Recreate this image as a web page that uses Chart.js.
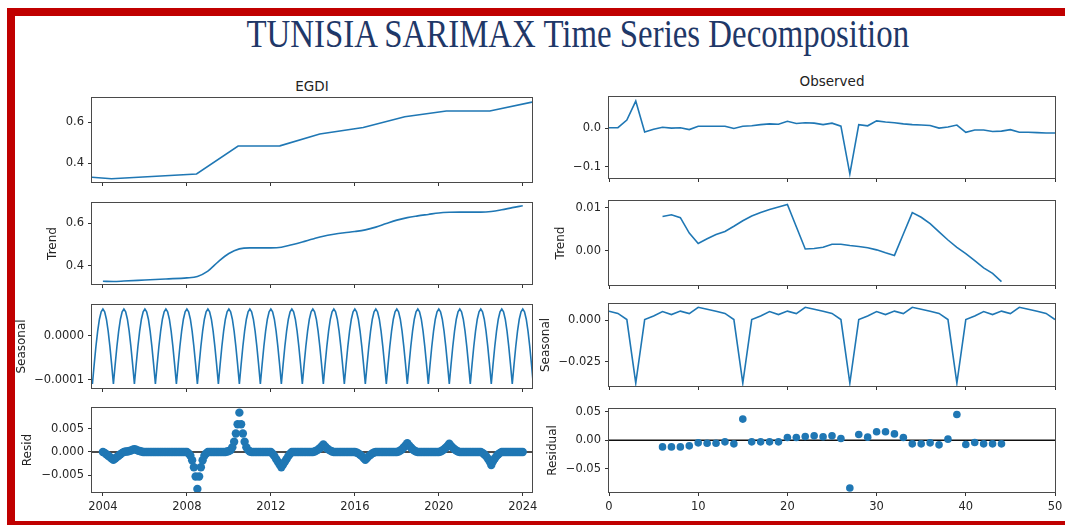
<!DOCTYPE html>
<html>
<head>
<meta charset="utf-8">
<script src="https://cdn.jsdelivr.net/npm/chart.js@4.4.0/dist/chart.umd.min.js"></script>
<style>
  html, body { margin: 0; padding: 0; background: #fff; overflow: hidden; }
  body { width: 1065px; height: 525px; position: relative; font-family: 'DejaVu Sans', sans-serif; }
  #stage { position: absolute; left: 0; top: 0; width: 1065px; height: 525px; overflow: hidden; background: #fff; }
  .bar { position: absolute; background: #c00000; }
  #title {
    position: absolute; top: 14px; left: 578px; white-space: nowrap;
    font-family: 'Liberation Serif', 'Times New Roman', serif; font-size: 39px; line-height: 39px;
    color: #1f3868; transform-origin: 0 0;
  }
  .sub { position: absolute; font-size: 13.5px; line-height: 14px; color: #222; white-space: nowrap; transform: translateX(-50%); }
  .panel { position: absolute; }
</style>
</head>
<body>
<div id="stage">
<div class="bar" style="left:7px; top:8px; width:1040px; height:8px;"></div>
<div class="bar" style="left:1047px; top:8px; width:18px; height:8px;"></div>
<div class="bar" style="left:7px; top:8px; width:8px; height:517px;"></div>
<div class="bar" style="left:7px; top:521px; width:1058px; height:4px;"></div>
<div id="title">TUNISIA SARIMAX Time Series Decomposition</div>
<div class="sub" style="left:312px; top:79px;">EGDI</div>
<div class="sub" style="left:832px; top:74px;">Observed</div>
</div>

<script>
// ---- Left column: EGDI decomposition (x in decimal years) ----
const yearTicks = [2004, 2008, 2012, 2016, 2020, 2024];

const egdiYears = [2003.48, 2004.41, 2008.46, 2010.44, 2012.43, 2014.33, 2016.40, 2018.38, 2020.36, 2022.43, 2024.44];
const egdiValues = [0.332, 0.325, 0.348, 0.484, 0.485, 0.543, 0.574, 0.627, 0.655, 0.655, 0.698];

const trendYears = [2004.0, 2004.5, 2005.0, 2006.0, 2007.0, 2008.0, 2008.5, 2009.0, 2009.5, 2010.0, 2010.5, 2011.0,
  2012.0, 2012.5, 2013.0, 2013.5, 2014.0, 2014.5, 2015.0, 2015.5, 2016.0, 2016.5, 2017.0, 2017.5, 2018.0,
  2018.5, 2019.0, 2019.5, 2020.0, 2020.5, 2021.0, 2022.0, 2022.5, 2023.0, 2023.5, 2024.0];
const trendValues = [0.327, 0.326, 0.328, 0.333, 0.338, 0.343, 0.350, 0.375, 0.420, 0.458, 0.480, 0.485,
  0.485, 0.488, 0.500, 0.513, 0.527, 0.540, 0.549, 0.556, 0.562, 0.570, 0.583, 0.600, 0.616,
  0.628, 0.636, 0.643, 0.650, 0.653, 0.654, 0.654, 0.657, 0.665, 0.675, 0.684];

// monthly, starting mid-2003
const seasonalStart = 2003.5;
const seasonalLeft = [
  -110e-6, -66e-6, -25e-6, 10e-6, 37e-6, 54e-6, 60e-6, 54e-6, 37e-6, 10e-6, -25e-6, -66e-6,
  -110e-6, -66e-6, -25e-6, 10e-6, 37e-6, 54e-6, 60e-6, 54e-6, 37e-6, 10e-6, -25e-6, -66e-6,
  -110e-6, -66e-6, -25e-6, 10e-6, 37e-6, 54e-6, 60e-6, 54e-6, 37e-6, 10e-6, -25e-6, -66e-6,
  -110e-6, -66e-6, -25e-6, 10e-6, 37e-6, 54e-6, 60e-6, 54e-6, 37e-6, 10e-6, -25e-6, -66e-6,
  -110e-6, -66e-6, -25e-6, 10e-6, 37e-6, 54e-6, 60e-6, 54e-6, 37e-6, 10e-6, -25e-6, -66e-6,
  -110e-6, -66e-6, -25e-6, 10e-6, 37e-6, 54e-6, 60e-6, 54e-6, 37e-6, 10e-6, -25e-6, -66e-6,
  -110e-6, -66e-6, -25e-6, 10e-6, 37e-6, 54e-6, 60e-6, 54e-6, 37e-6, 10e-6, -25e-6, -66e-6,
  -110e-6, -66e-6, -25e-6, 10e-6, 37e-6, 54e-6, 60e-6, 54e-6, 37e-6, 10e-6, -25e-6, -66e-6,
  -110e-6, -66e-6, -25e-6, 10e-6, 37e-6, 54e-6, 60e-6, 54e-6, 37e-6, 10e-6, -25e-6, -66e-6,
  -110e-6, -66e-6, -25e-6, 10e-6, 37e-6, 54e-6, 60e-6, 54e-6, 37e-6, 10e-6, -25e-6, -66e-6,
  -110e-6, -66e-6, -25e-6, 10e-6, 37e-6, 54e-6, 60e-6, 54e-6, 37e-6, 10e-6, -25e-6, -66e-6,
  -110e-6, -66e-6, -25e-6, 10e-6, 37e-6, 54e-6, 60e-6, 54e-6, 37e-6, 10e-6, -25e-6, -66e-6,
  -110e-6, -66e-6, -25e-6, 10e-6, 37e-6, 54e-6, 60e-6, 54e-6, 37e-6, 10e-6, -25e-6, -66e-6,
  -110e-6, -66e-6, -25e-6, 10e-6, 37e-6, 54e-6, 60e-6, 54e-6, 37e-6, 10e-6, -25e-6, -66e-6,
  -110e-6, -66e-6, -25e-6, 10e-6, 37e-6, 54e-6, 60e-6, 54e-6, 37e-6, 10e-6, -25e-6, -66e-6,
  -110e-6, -66e-6, -25e-6, 10e-6, 37e-6, 54e-6, 60e-6, 54e-6, 37e-6, 10e-6, -25e-6, -66e-6,
  -110e-6, -66e-6, -25e-6, 10e-6, 37e-6, 54e-6, 60e-6, 54e-6, 37e-6, 10e-6, -25e-6, -66e-6,
  -110e-6, -66e-6, -25e-6, 10e-6, 37e-6, 54e-6, 60e-6, 54e-6, 37e-6, 10e-6, -25e-6, -66e-6,
  -110e-6, -66e-6, -25e-6, 10e-6, 37e-6, 54e-6, 60e-6, 54e-6, 37e-6, 10e-6, -25e-6, -66e-6,
  -110e-6, -66e-6, -25e-6, 10e-6, 37e-6, 54e-6, 60e-6, 54e-6, 37e-6, 10e-6, -25e-6, -66e-6,
  -110e-6, -66e-6, -25e-6, 10e-6, 37e-6, 54e-6, 60e-6, 54e-6, 37e-6, 10e-6, -25e-6, -66e-6,
  -110e-6
];

// monthly residuals 2004.0 .. 2024.0
const residStart = 2004;
const residLeft = [
  0, -0.0002, -0.0005, -0.0008, -0.0011, -0.0014, -0.0017, -0.0014, -0.0011, -0.0008, -0.0005, -0.0002,
  0, 0.0001, 0.0001, 0.0002, 0.0003, 0.0005, 0.0006, 0.0005, 0.0003, 0.0002, 0.0001, 0,
  0, 0, 0, 0, 0, 0, 0, 0, 0, 0, 0, 0,
  0, 0, 0, 0, 0, 0, 0, 0, 0, 0, 0, 0,
  0, -0.0003, -0.0008, -0.0018, -0.0033, -0.0053, -0.0080, -0.0053, -0.0033, -0.0018, -0.0008, -0.0003,
  0, 0, 0, 0, 0, 0, 0, 0, 0, 0, 0, 0.0001,
  0.0002, 0.0004, 0.0010, 0.0022, 0.0040, 0.0060, 0.0085, 0.0060, 0.0040, 0.0022, 0.0010, 0.0004,
  0.0001, 0, 0, 0, 0, 0, 0, 0, 0, 0, 0, 0,
  0, -0.0004, -0.0009, -0.0015, -0.0021, -0.0027, -0.0033, -0.0027, -0.0021, -0.0015, -0.0009, -0.0004,
  0, 0, 0, 0, 0, 0, 0, 0, 0, 0, 0, 0,
  0, 0.0001, 0.0003, 0.0005, 0.0008, 0.0012, 0.0016, 0.0012, 0.0008, 0.0005, 0.0003, 0.0001,
  0, 0, 0, 0, 0, 0, 0, 0, 0, 0, 0, 0,
  0, -0.0001, -0.0003, -0.0006, -0.0009, -0.0013, -0.0017, -0.0013, -0.0009, -0.0006, -0.0003, -0.0001,
  0, 0, 0, 0, 0, 0, 0, 0, 0, 0, 0, 0,
  0, 0.0001, 0.0003, 0.0006, 0.0010, 0.0014, 0.0019, 0.0014, 0.0010, 0.0006, 0.0003, 0.0001,
  0, 0, 0, 0, 0, 0, 0, 0, 0, 0, 0, 0,
  0, 0.0001, 0.0003, 0.0006, 0.0009, 0.0013, 0.0018, 0.0013, 0.0009, 0.0006, 0.0003, 0.0001,
  0, 0, 0, 0, 0, 0, 0, 0, 0, 0, 0, 0,
  0, -0.0002, -0.0005, -0.0009, -0.0014, -0.0020, -0.0028, -0.0020, -0.0014, -0.0009, -0.0005, -0.0002,
  0, 0, 0, 0, 0, 0, 0, 0, 0, 0, 0, 0,
  0
];

// ---- Right column: SARIMAX residual decomposition (x = observation index 0..50) ----
const indexTicks = [0, 10, 20, 30, 40, 50];

const observedRight = [
  0.002, 0.002, 0.022, 0.072, -0.009, -0.002, 0.003, 0.001, 0.002, -0.003,
  0.006, 0.006, 0.006, 0.006, 0.000, 0.006, 0.007, 0.010, 0.012, 0.011,
  0.019, 0.013, 0.015, 0.014, 0.010, 0.014, 0.006, -0.119, 0.010, 0.007,
  0.020, 0.017, 0.015, 0.012, 0.010, 0.009, 0.008, 0.001, 0.004, 0.009,
  -0.010, -0.004, -0.004, -0.008, -0.007, -0.003, -0.010, -0.010, -0.011, -0.012,
  -0.012
];
const trendRight = [
  null, null, null, null, null, null, 0.0080, 0.0084, 0.0077, 0.0041,
  0.0017, 0.0028, 0.0038, 0.0045, 0.0057, 0.0070, 0.0081, 0.0089, 0.0096, 0.0102,
  0.0108, 0.0056, 0.0004, 0.0005, 0.0008, 0.0015, 0.0015, 0.0012, 0.0010, 0.0007,
  0.0002, -0.0005, -0.0011, 0.0039, 0.0089, 0.0078, 0.0063, 0.0044, 0.0025, 0.0008,
  -0.0007, -0.0023, -0.0040, -0.0053, -0.0072, null, null, null, null, null,
  null
];
const seasonalRight = [
  0.0054, 0.0041, 0.0004, -0.0380, 0.0004, 0.0026, 0.0052, 0.0034, 0.0055, 0.0040, 0.0078, 0.0066,
  0.0054, 0.0041, 0.0004, -0.0380, 0.0004, 0.0026, 0.0052, 0.0034, 0.0055, 0.0040, 0.0078, 0.0066,
  0.0054, 0.0041, 0.0004, -0.0380, 0.0004, 0.0026, 0.0052, 0.0034, 0.0055, 0.0040, 0.0078, 0.0066,
  0.0054, 0.0041, 0.0004, -0.0380, 0.0004, 0.0026, 0.0052, 0.0034, 0.0055, 0.0040, 0.0078, 0.0066,
  0.0054, 0.0041, 0.0004
];
const residRight = [
  null, null, null, null, null, null, -0.0118, -0.0118, -0.0118, -0.0100,
  -0.0047, -0.0053, -0.0053, -0.0030, -0.0065, 0.0370, -0.0030, -0.0030, -0.0030, -0.0030,
  0.0047, 0.0047, 0.0065, 0.0076, 0.0059, 0.0076, 0.0030, -0.0840, 0.0100, 0.0053,
  0.0147, 0.0147, 0.0110, 0.0047, -0.0065, -0.0065, -0.0047, -0.0082, 0.0018, 0.0450,
  -0.0076, -0.0040, -0.0065, -0.0065, -0.0065, null, null, null, null, null,
  null
];

const BLUE = '#1f77b4';
const FONT = "'DejaVu Sans', sans-serif";

function fmt(decimals) {
  return v => (v < 0 ? '\u2212' : '') + Math.abs(v).toFixed(decimals);
}

// frame box, y label and optional zero line
const panelPlugin = {
  id: 'panelDeco',
  beforeDatasetsDraw(chart, args, opts) {
    if (!opts.zeroLine) return;
    const { ctx, chartArea: a } = chart;
    const y = chart.scales.y.getPixelForValue(0);
    ctx.save();
    ctx.strokeStyle = '#111';
    ctx.lineWidth = 1.5;
    ctx.beginPath();
    ctx.moveTo(a.left, y);
    ctx.lineTo(a.right, y);
    ctx.stroke();
    ctx.restore();
  },
  afterDraw(chart, args, opts) {
    const { ctx, chartArea: a } = chart;
    ctx.save();
    ctx.strokeStyle = '#4a4a4a';
    ctx.lineWidth = 1;
    ctx.strokeRect(Math.round(a.left) - 0.5, Math.round(a.top) - 0.5, Math.round(a.right - a.left) + 1, Math.round(a.bottom - a.top) + 1);
    if (opts.label) {
      ctx.translate(opts.labelX, (a.top + a.bottom) / 2);
      ctx.rotate(-Math.PI / 2);
      ctx.fillStyle = '#222';
      ctx.font = '12px ' + FONT;
      ctx.textAlign = 'center';
      ctx.textBaseline = 'middle';
      ctx.fillText(opts.label, 0, 0);
    }
    ctx.restore();
  }
};

const PAD_L = 90, PAD_T = 12, PAD_R = 8, AXIS_H = 30;
const stage = document.getElementById('stage');

function makePanel(box, cfg) {
  const wrap = document.createElement('div');
  wrap.className = 'panel';
  wrap.style.left = (box.x - PAD_L) + 'px';
  wrap.style.top = (box.y - PAD_T) + 'px';
  wrap.style.width = (box.w + PAD_L + PAD_R) + 'px';
  wrap.style.height = (box.h + PAD_T + AXIS_H) + 'px';
  const canvas = document.createElement('canvas');
  wrap.appendChild(canvas);
  stage.appendChild(wrap);

  const tickFont = { family: FONT, size: 11.5 };
  return new Chart(canvas, {
    type: 'line',
    data: { datasets: cfg.datasets },
    plugins: [panelPlugin],
    options: {
      responsive: true,
      maintainAspectRatio: false,
      animation: false,
      layout: { padding: { top: PAD_T, right: PAD_R, left: 0, bottom: 0 } },
      plugins: {
        legend: { display: false },
        tooltip: { enabled: false },
        panelDeco: { label: cfg.label || '', labelX: (cfg.labelX || 0) - (box.x - PAD_L), zeroLine: !!cfg.zeroLine }
      },
      scales: {
        x: {
          type: 'linear',
          min: cfg.xMin, max: cfg.xMax,
          afterBuildTicks: s => { s.ticks = cfg.xTicks.map(v => ({ value: v })); },
          afterFit: s => { s.height = AXIS_H; s.paddingLeft = 0; s.paddingRight = 0; },
          grid: { drawOnChartArea: false, drawTicks: true, tickLength: 4, tickColor: '#333' },
          border: { display: false },
          ticks: {
            display: !!cfg.xLabels, font: tickFont, color: '#262626', padding: 4,
            maxRotation: 0, autoSkip: false, callback: v => String(v)
          }
        },
        y: {
          type: 'linear',
          min: cfg.yMin, max: cfg.yMax,
          afterBuildTicks: s => { s.ticks = cfg.yTicks.map(v => ({ value: v })); },
          afterFit: s => { s.width = PAD_L; s.paddingTop = 0; s.paddingBottom = 0; },
          grid: { drawOnChartArea: false, drawTicks: true, tickLength: 4, tickColor: '#333' },
          border: { display: false },
          ticks: { font: tickFont, color: '#262626', padding: 4, callback: cfg.yFormat }
        }
      }
    }
  });
}

function lineSet(points, extra) {
  return Object.assign({
    data: points, borderColor: BLUE, borderWidth: 1.6, pointRadius: 0,
    tension: 0, spanGaps: false, fill: false
  }, extra || {});
}
function dotSet(points, r) {
  return {
    data: points, showLine: false, pointRadius: r, pointBackgroundColor: BLUE,
    pointBorderWidth: 0, borderColor: BLUE
  };
}

const L_BOX_X = 92, L_BOX_W = 440;
const R_BOX_X = 609, R_BOX_W = 446;
const leftRows = [[98, 182], [203, 284], [305, 388], [408, 492]];
const rightRows = [[97, 178], [201, 285], [304, 386], [409, 492]];
const box = (x, w, r) => ({ x: x, w: w, y: r[0], h: r[1] - r[0] });

const L_XMIN = 2003.48, L_XMAX = 2024.44;

// left column
makePanel(box(L_BOX_X, L_BOX_W, leftRows[0]), {
  datasets: [lineSet(egdiYears.map((x, i) => ({ x: x, y: egdiValues[i] })))],
  xMin: L_XMIN, xMax: L_XMAX, xTicks: yearTicks,
  yMin: 0.309, yMax: 0.718, yTicks: [0.4, 0.6], yFormat: fmt(1)
});
makePanel(box(L_BOX_X, L_BOX_W, leftRows[1]), {
  datasets: [lineSet(trendYears.map((x, i) => ({ x: x, y: trendValues[i] })), { cubicInterpolationMode: 'monotone' })],
  xMin: L_XMIN, xMax: L_XMAX, xTicks: yearTicks,
  yMin: 0.314, yMax: 0.697, yTicks: [0.4, 0.6], yFormat: fmt(1),
  label: 'Trend', labelX: 53
});
makePanel(box(L_BOX_X, L_BOX_W, leftRows[2]), {
  datasets: [lineSet(seasonalLeft.map((v, i) => ({ x: seasonalStart + i / 12, y: v })))],
  xMin: L_XMIN, xMax: L_XMAX, xTicks: yearTicks,
  yMin: -0.000119, yMax: 0.0000692, yTicks: [-0.0001, 0], yFormat: fmt(4),
  label: 'Seasonal', labelX: 22
});
makePanel(box(L_BOX_X, L_BOX_W, leftRows[3]), {
  datasets: [dotSet(residLeft.map((v, i) => ({ x: residStart + i / 12, y: v })), 4.2)],
  xMin: L_XMIN, xMax: L_XMAX, xTicks: yearTicks, xLabels: true,
  yMin: -0.00865, yMax: 0.0095, yTicks: [-0.005, 0, 0.005], yFormat: fmt(3),
  label: 'Resid', labelX: 28, zeroLine: true
});

// right column
const idxPoints = arr => arr.map((v, i) => ({ x: i, y: v }));
makePanel(box(R_BOX_X, R_BOX_W, rightRows[0]), {
  datasets: [lineSet(idxPoints(observedRight))],
  xMin: 0, xMax: 50, xTicks: indexTicks,
  yMin: -0.130, yMax: 0.0826, yTicks: [-0.1, 0], yFormat: fmt(1)
});
makePanel(box(R_BOX_X, R_BOX_W, rightRows[1]), {
  datasets: [lineSet(idxPoints(trendRight))],
  xMin: 0, xMax: 50, xTicks: indexTicks,
  yMin: -0.0080, yMax: 0.0116, yTicks: [0, 0.01], yFormat: fmt(2),
  label: 'Trend', labelX: 561
});
makePanel(box(R_BOX_X, R_BOX_W, rightRows[2]), {
  datasets: [lineSet(idxPoints(seasonalRight))],
  xMin: 0, xMax: 50, xTicks: indexTicks,
  yMin: -0.0398, yMax: 0.0098, yTicks: [-0.025, 0], yFormat: fmt(3),
  label: 'Seasonal', labelX: 546
});
makePanel(box(R_BOX_X, R_BOX_W, rightRows[3]), {
  datasets: [dotSet(idxPoints(residRight), 3.8)],
  xMin: 0, xMax: 50, xTicks: indexTicks, xLabels: true,
  yMin: -0.091, yMax: 0.0547, yTicks: [-0.05, 0, 0.05], yFormat: fmt(2),
  label: 'Residual', labelX: 553, zeroLine: true
});

// squeeze the title to the reference width, centred on its x
const title = document.getElementById('title');
const tw = title.offsetWidth;
const k = 663 / tw;
title.style.transform = 'translateX(' + (-tw * k / 2) + 'px) scaleX(' + k + ')';
</script>
</body>
</html>
